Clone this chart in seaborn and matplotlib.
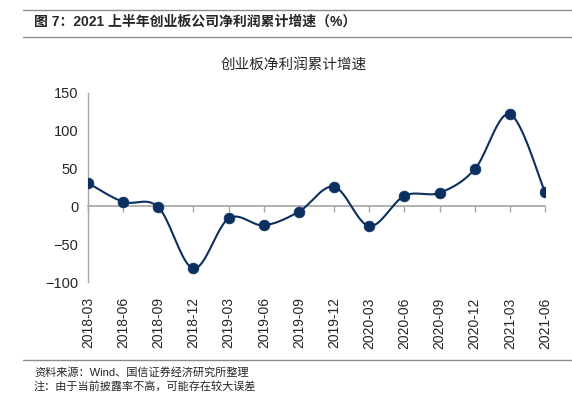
import numpy as np
import pandas as pd
import seaborn as sns
import matplotlib.pyplot as plt
from matplotlib.lines import Line2D

# data
periods = ['2018-03', '2018-06', '2018-09', '2018-12', '2019-03', '2019-06', '2019-09',
           '2019-12', '2020-03', '2020-06', '2020-09', '2020-12', '2021-03', '2021-06']
growth = [31, 6, -1, -82, -16, -25, -7, 26, -26, 14, 18, 49, 122, 19]
y_ticks = [-100, -50, 0, 50, 100, 150]

header = '图 7：2021 上半年创业板公司净利润累计增速（%）'
chart_title = '创业板净利润累计增速'
source_note = '资料来源：Wind、国信证券经济研究所整理'
extra_note = '注：由于当前披露率不高，可能存在较大误差'

navy = '#0b2f5e'
grey = '#a6a6a6'

sns.set_style('white')
plt.rcParams['font.family'] = ['Liberation Sans', 'Noto Sans CJK SC', 'DejaVu Sans']

df = pd.DataFrame({'x': np.arange(len(periods)), 'growth': growth})


# Excel-like smoothed line (Catmull-Rom through the points)
def smooth(x, y, n=30):
    x = np.asarray(x, float)
    y = np.asarray(y, float)
    px = np.r_[x[0], x, x[-1]]
    py = np.r_[y[0], y, y[-1]]
    xs, ys = [], []
    t = np.linspace(0, 1, n)
    for i in range(1, len(px) - 2):
        p0, p1, p2, p3 = [np.array([px[j], py[j]]) for j in (i - 1, i, i + 1, i + 2)]
        c1 = p1 + (p2 - p0) / 6
        c2 = p2 - (p3 - p1) / 6
        pts = ((1 - t) ** 3)[:, None] * p1 + (3 * (1 - t) ** 2 * t)[:, None] * c1 \
            + (3 * (1 - t) * t ** 2)[:, None] * c2 + (t ** 3)[:, None] * p2
        xs.extend(pts[:, 0])
        ys.extend(pts[:, 1])
    return pd.DataFrame({'x': xs, 'y': ys})


curve = smooth(df['x'], df['growth'])

fig = plt.figure(figsize=(5.72, 3.93), dpi=100)
ax = fig.add_axes([88 / 572, 1 - 282 / 393, (545 - 88) / 572, (282 - 93) / 393])

sns.lineplot(data=curve, x='x', y='y', ax=ax, color=navy, linewidth=1.5, sort=False, zorder=3)
sns.scatterplot(data=df, x='x', y='growth', ax=ax, color=navy, s=60, edgecolor=navy,
                linewidth=0.5, zorder=4)

ax.set_xlim(0, len(periods) - 1)
ax.set_ylim(-100, 150)
ax.set_yticks(y_ticks)
ax.set_xticks(df['x'])
ax.set_xticklabels(periods, rotation=90, fontsize=10)
ax.tick_params(axis='x', length=0, pad=11)
ax.tick_params(axis='y', length=4, width=1, color=grey, direction='out', labelsize=10.5, pad=3)
ax.set_xlabel('')
ax.set_ylabel('')
for s in ['top', 'right', 'bottom']:
    ax.spines[s].set_visible(False)
ax.spines['left'].set_color(grey)
ax.spines['left'].set_linewidth(1)

# zero axis with category ticks
zero_ax = ax.secondary_xaxis(0, transform=ax.transData)
zero_ax.set_xticks(df['x'])
zero_ax.set_xticklabels([])
zero_ax.tick_params(length=4, width=1, color=grey, direction='out')
zero_ax.spines['bottom'].set_color(grey)
zero_ax.spines['bottom'].set_linewidth(1.2)

fig.text(294 / 572, 1 - 65 / 393, chart_title, ha='center', va='center', fontsize=10.5)

# header / footer of the report page
fig.text(34 / 572, 1 - 22 / 393, header, ha='left', va='center', fontsize=10, fontweight='bold')
for yy in (10, 37, 360):
    fig.add_artist(Line2D([23 / 572, 1], [1 - yy / 393] * 2, color='#8c8c8c', linewidth=1))
fig.text(34 / 572, 1 - 372 / 393, source_note, ha='left', va='center', fontsize=8)
fig.text(34 / 572, 1 - 386 / 393, extra_note, ha='left', va='center', fontsize=8)

fig.savefig('out.png', dpi=100)
